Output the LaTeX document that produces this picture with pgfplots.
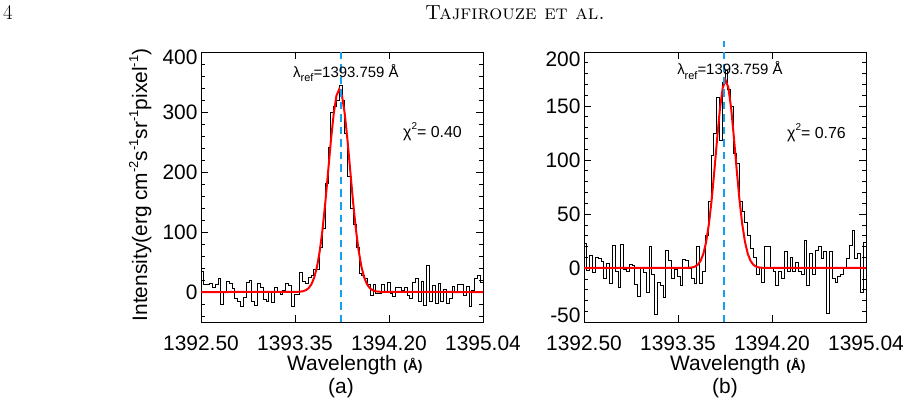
\documentclass[border=0pt]{standalone}
\usepackage{fontspec}
\usepackage{pgfplots}
\usepackage{pgfplotstable}
\pgfplotsset{compat=1.18}
\newfontfamily\arial{Liberation Sans}
\definecolor{refblue}{RGB}{20,160,240}
\newcommand\sz[1]{\fontsize{#1}{#1}\selectfont}
\newcommand\sups[1]{\raisebox{0.42em}{\sz{13}#1}}

% Si IV 1393.76 spectra: bin left edges (x), intensities for (a) and (b)
\pgfplotstableread{
x a b
1392.5000 35 23
1392.5254 12 -2
1392.5508 13 12
1392.5762 14 -4
1392.6016 7 10
1392.6270 13 9
1392.6524 23 6
1392.6778 -20 -10
1392.7032 0 4
1392.7286 17 -14
1392.7540 14 21
1392.7794 6 -3
1392.8048 -10 -18
1392.8302 -16 22
1392.8556 -24 -1
1392.8810 -9 -3
1392.9064 16 3
1392.9318 20 2
1392.9572 -15 -15
1392.9826 -22 -26
1393.0080 14 0
1393.0334 8 -4
1393.0588 -12 -23
1393.0842 -16 20
1393.1096 0 -6
1393.1350 -17 -43
1393.1604 7 -13
1393.1858 0 -16
1393.2112 -4 -27
1393.2366 3 16
1393.2620 14 7
1393.2874 11 -10
1393.3128 -24 -1
1393.3382 -4 -8
1393.3636 -4 -16
1393.3890 32 8
1393.4144 18 7
1393.4398 14 0
1393.4652 25 -10
1393.4906 28 -14
1393.5160 37 20
1393.5414 38 -14
1393.5668 75 -3
1393.5922 106 30
1393.6176 181 62
1393.6430 241 104
1393.6684 300 125
1393.6938 309 158
1393.7192 320 118
1393.7446 345 172
1393.7700 320 183
1393.7954 264 165
1393.8208 192 150
1393.8462 139 106
1393.8716 112 97
1393.8970 74 62
1393.9224 31 52
1393.9478 28 42
1393.9732 23 30
1393.9986 13 18
1394.0240 -6 10
1394.0494 12 -6
1394.0748 -2 1
1394.1002 -2 -13
1394.1256 12 20
1394.1510 0 20
1394.1764 16 1
1394.2018 -2 -3
1394.2272 -8 -16
1394.2526 7 -3
1394.2780 7 -10
1394.3034 3 15
1394.3288 8 -3
1394.3542 -6 10
1394.3796 -10 -3
1394.4050 16 5
1394.4304 23 -3
1394.4558 -16 -6
1394.4812 17 26
1394.5066 -22 -16
1394.5320 45 14
1394.5574 -16 -6
1394.5828 11 16
1394.6082 -19 20
1394.6336 14 9
1394.6590 -16 15
1394.6844 5 -42
1394.7098 -19 15
1394.7352 -10 -10
1394.7606 9 -13
1394.7860 0 -8
1394.8114 13 -6
1394.8368 12 0
1394.8622 -5 9
1394.8876 9 21
1394.9130 -24 35
1394.9384 3 9
1394.9638 23 14
1394.9892 28 -23
1395.0146 16 24
1395.0400 16 24
}\spectra

% Gaussian fit, panel (a)
\pgfplotstableread{
x y
1392.500 0
1393.295 0.01
1393.345 0.08
1393.395 0.57
1393.420 1.38
1393.445 3.12
1393.470 6.59
1393.495 13.05
1393.520 24.2
1393.545 42.1
1393.570 68.6
1393.595 104.7
1393.620 149.8
1393.645 200.8
1393.670 252.2
1393.695 296.8
1393.720 327.2
1393.745 338.0
1393.770 327.2
1393.795 296.8
1393.820 252.2
1393.845 200.8
1393.870 149.8
1393.895 104.7
1393.920 68.6
1393.945 42.1
1393.970 24.2
1393.995 13.05
1394.020 6.59
1394.045 3.12
1394.070 1.38
1394.095 0.57
1394.145 0.08
1394.195 0.01
1395.040 0
}\fita

% Gaussian fit, panel (b)
\pgfplotstableread{
x y
1392.500 0
1393.425 0.06
1393.475 0.52
1393.500 1.32
1393.525 3.08
1393.550 6.62
1393.575 13.15
1393.600 24.1
1393.625 40.7
1393.650 63.4
1393.675 91.2
1393.700 121.0
1393.725 148.1
1393.750 167.1
1393.775 174.0
1393.800 167.1
1393.825 148.1
1393.850 121.0
1393.875 91.2
1393.900 63.4
1393.925 40.7
1393.950 24.1
1393.975 13.15
1394.000 6.62
1394.025 3.08
1394.050 1.32
1394.075 0.52
1394.125 0.06
1395.040 0
}\fitb

\pgfplotsset{
  specaxis/.style={
    scale only axis, width=282bp, height=270bp, anchor=south west,
    xmin=1392.5, xmax=1395.04,
    xtick={1392.5,1393.3467,1394.1933,1395.04},
    xticklabels={1392.50,1393.35,1394.20,1395.04},
    tick align=inside,
    major tick length=7bp, minor tick length=4bp,
    tick style={black, line width=0.6bp},
    axis line style={line width=0.8bp},
    tick label style={font=\arial\sz{21}},
    xticklabel style={anchor=base, yshift=-28bp},
    clip=false,
  },
  histo/.style={black, line width=0.7bp, const plot mark left},
  fitline/.style={red, line width=2bp},
  refline/.style={refblue, line width=1.8bp, dash pattern=on 7.5bp off 5bp},
}

\begin{document}
\begin{tikzpicture}[x=1bp,y=1bp]
\useasboundingbox (0,0) rectangle (911,418);

% running head
\node[anchor=base west, inner sep=0, font=\sz{21}] at (3,398) {4};
\node[anchor=base, inner sep=0, font=\sz{20.5}\scshape] at (515,398) {Tajfirouze et al.};

% ---- panel (a)
\begin{axis}[specaxis, at={(201bp,96bp)},
    ymin=-50, ymax=400,
    ytick={0,100,200,300,400},
    yticklabels={0,100,200,300,\raisebox{-5bp}[\height][\depth]{400}},
    minor ytick={-40,-20,20,40,60,80,120,140,160,180,220,240,260,280,320,340,360,380}]
  \addplot[histo] table[x=x,y=a]{\spectra};
  \addplot[fitline] table[x=x,y=y]{\fita};
  \addplot[refline] coordinates {(1393.759,-50) (1393.759,400)};
  \node[anchor=base west, inner sep=0, font=\arial\sz{15}] at (axis cs:1393.329,358)
    {λ\raisebox{-0.3em}{\sz{11}ref}=1393.759 Å};
  \node[anchor=base west, inner sep=0, font=\arial\sz{16}] at (axis cs:1394.319,258)
    {χ\raisebox{0.5em}{\sz{10}2}= 0.40};
\end{axis}

% ---- panel (b)
\begin{axis}[specaxis, at={(584bp,96bp)},
    ymin=-50, ymax=200,
    ytick={-50,0,50,100,150,200},
    yticklabels={\raisebox{7bp}[\height][\depth]{-50},0,50,100,150,\raisebox{-7bp}[\height][\depth]{200}},
    minor ytick={-40,-30,-20,-10,10,20,30,40,60,70,80,90,110,120,130,140,160,170,180,190}]
  \addplot[histo] table[x=x,y=b]{\spectra};
  \addplot[fitline] table[x=x,y=y]{\fitb};
  \addplot[refline] coordinates {(1393.759,-50) (1393.759,210)};
  \node[anchor=base west, inner sep=0, font=\arial\sz{15}] at (axis cs:1393.338,179)
    {λ\raisebox{-0.3em}{\sz{11}ref}=1393.759 Å};
  \node[anchor=base west, inner sep=0, font=\arial\sz{16}] at (axis cs:1394.328,120)
    {χ\raisebox{0.5em}{\sz{10}2}= 0.76};
\end{axis}

% axis titles
\node[anchor=base, rotate=90, inner sep=0, font=\arial\sz{21}] at (147,233)
  {Intensity(erg cm\sups{-2}s\sups{-1}sr\sups{-1}pixel\sups{-1})};

\node[anchor=base, inner sep=0, font=\arial\sz{21}] (wa) at (342,48) {Wavelength};
\node[anchor=base west, inner sep=0, font=\arial\bfseries\sz{14}] at ([xshift=6bp]wa.base east) {(Å)};
\node[anchor=base, inner sep=0, font=\arial\sz{21}] at (341,25) {(a)};

\node[anchor=base, inner sep=0, font=\arial\sz{21}] (wb) at (725,48) {Wavelength};
\node[anchor=base west, inner sep=0, font=\arial\bfseries\sz{14}] at ([xshift=6bp]wb.base east) {(Å)};
\node[anchor=base, inner sep=0, font=\arial\sz{21}] at (725,25) {(b)};
\end{tikzpicture}
\end{document}
